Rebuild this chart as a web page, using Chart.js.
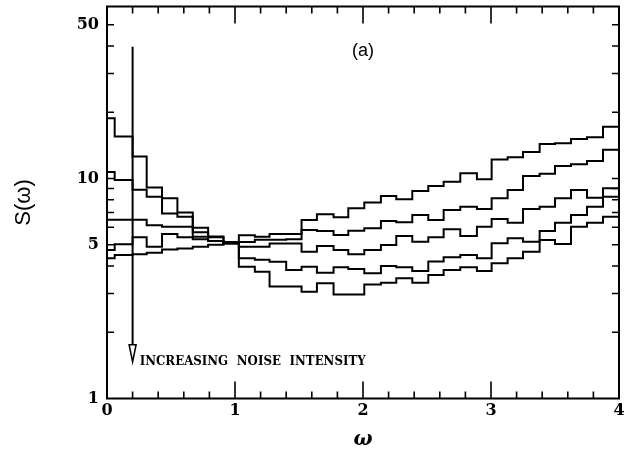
<!DOCTYPE html>
<html><head><meta charset="utf-8">
<script src="https://cdn.jsdelivr.net/npm/chart.js@4"></script>
<style>html,body{margin:0;padding:0;background:#fff;}</style>
</head><body>
<canvas id="c" width="629" height="458"></canvas>
<script>
// bin edges along omega (34 edges -> 33 bins)
const binEdges = [0, 0.06, 0.20, 0.31, 0.43, 0.55, 0.67, 0.79, 0.91, 1.03, 1.155, 1.27, 1.40, 1.52, 1.64, 1.77, 1.885, 2.01, 2.14, 2.26, 2.385, 2.51, 2.63, 2.76, 2.89, 3.005, 3.13, 3.25, 3.38, 3.50, 3.625, 3.75, 3.875, 4.0];
// spectra S(omega), one value per bin
const spectrum1 = [4.34, 4.49, 4.53, 4.6, 4.75, 4.8, 4.9, 5.0, 5.1, 5.52, 5.44, 5.6, 5.6, 6.48, 6.87, 6.66, 7.32, 7.77, 8.33, 8.05, 8.77, 9.25, 9.67, 10.56, 9.92, 12.2, 12.5, 13.2, 14.35, 14.45, 15.1, 15.4, 17.2];
const spectrum2 = [4.73, 5.03, 5.4, 4.9, 5.6, 5.4, 5.3, 5.2, 5.1, 5.15, 5.27, 5.27, 5.3, 5.83, 5.77, 5.54, 5.79, 5.94, 6.41, 6.32, 6.82, 6.48, 7.19, 7.44, 7.26, 8.13, 8.87, 10.27, 10.5, 11.4, 11.6, 12.0, 13.5];
const spectrum3 = [6.5, 6.5, 6.5, 6.13, 6.04, 6.04, 5.7, 5.4, 5.1, 4.9, 4.89, 5.07, 5.07, 4.64, 4.93, 4.73, 4.52, 4.73, 4.99, 5.48, 5.16, 5.4, 5.88, 5.48, 6.04, 6.54, 6.3, 7.26, 7.44, 8.13, 8.87, 8.17, 8.27];
const spectrum4 = [10.7, 9.85, 8.9, 8.27, 6.93, 6.7, 5.44, 5.2, 5.05, 4.34, 4.27, 4.18, 3.84, 3.97, 3.73, 3.95, 3.88, 3.71, 4.0, 3.95, 3.8, 4.19, 4.38, 4.49, 4.34, 5.08, 5.35, 5.16, 5.77, 6.3, 6.82, 7.44, 9.03];
const spectrum5 = [18.8, 15.5, 12.6, 9.1, 8.13, 7.0, 5.97, 5.45, 5.15, 3.97, 3.77, 3.23, 3.23, 3.06, 3.34, 2.97, 2.97, 3.3, 3.36, 3.52, 3.36, 3.64, 3.84, 3.95, 3.8, 4.12, 4.34, 4.65, 5.25, 5.04, 6.04, 6.3, 6.7];

const xTickLabels = [0, 1, 2, 3, 4];
const xMinorTicks = [0.2, 0.4, 0.6, 0.8, 1.2, 1.4, 1.6, 1.8, 2.2, 2.4, 2.6, 2.8, 3.2, 3.4, 3.6, 3.8];
const yTickLabels = [1, 5, 10, 50];
const yMinorTicks = [2, 3, 4, 6, 7, 8, 9, 20, 30, 40];

const panelLabel = { text: '(a)', x: 2.0, y: 38 };
const arrowNote = { text: 'INCREASING NOISE INTENSITY', x: 0.2, yFrom: 39.7, yTo: 1.47, textX: 0.255 };

function stepPoints(vals) {
  const pts = vals.map((v, i) => ({ x: binEdges[i], y: v }));
  pts.push({ x: binEdges[binEdges.length - 1], y: vals[vals.length - 1] });
  return pts;
}
const allSpectra = [spectrum1, spectrum2, spectrum3, spectrum4, spectrum5];

const frame = {
  id: 'frame',
  afterDatasetsDraw(chart) {
    const { ctx, chartArea: a, scales: { x, y } } = chart;
    ctx.save();
    ctx.strokeStyle = '#000';
    ctx.lineWidth = 2;
    ctx.strokeRect(a.left, a.top, a.right - a.left, a.bottom - a.top);
    ctx.lineWidth = 1.6;
    ctx.beginPath();
    const xt = (v, len) => { const p = x.getPixelForValue(v); ctx.moveTo(p, a.bottom); ctx.lineTo(p, a.bottom - len); ctx.moveTo(p, a.top); ctx.lineTo(p, a.top + len); };
    xMinorTicks.forEach(v => xt(v, 7));
    xTickLabels.slice(1, -1).forEach(v => xt(v, 17));
    const yt = (v) => { const p = y.getPixelForValue(v); ctx.moveTo(a.left, p); ctx.lineTo(a.left + 7, p); ctx.moveTo(a.right, p); ctx.lineTo(a.right - 7, p); };
    yMinorTicks.forEach(yt);
    yTickLabels.slice(1).forEach(yt);
    ctx.stroke();

    // arrow
    const ax = x.getPixelForValue(arrowNote.x);
    const ay0 = y.getPixelForValue(arrowNote.yFrom);
    const ay1 = y.getPixelForValue(arrowNote.yTo);
    ctx.lineWidth = 2;
    ctx.beginPath();
    ctx.moveTo(ax, ay0); ctx.lineTo(ax, ay1 - 17);
    ctx.stroke();
    ctx.lineWidth = 1.5;
    ctx.beginPath();
    ctx.moveTo(ax - 3.5, ay1 - 17); ctx.lineTo(ax + 3.5, ay1 - 17); ctx.lineTo(ax, ay1); ctx.closePath();
    ctx.fillStyle = '#fff'; ctx.fill(); ctx.stroke();

    ctx.fillStyle = '#000';
    ctx.textBaseline = 'middle';
    ctx.textAlign = 'left';
    ctx.font = 'bold 13px "DejaVu Serif"';
    try { ctx.wordSpacing = '5px'; } catch (e) {}
    ctx.fillText(arrowNote.text, x.getPixelForValue(arrowNote.textX), ay1, 226);
    try { ctx.wordSpacing = '0px'; } catch (e) {}

    ctx.textAlign = 'center';
    ctx.font = '18px "Liberation Sans"';
    ctx.fillText(panelLabel.text, x.getPixelForValue(panelLabel.x), y.getPixelForValue(panelLabel.y));
    ctx.restore();
  }
};

const tickFont = { family: 'DejaVu Serif', weight: 'bold', size: 16 };

new Chart(document.getElementById('c'), {
  type: 'line',
  data: {
    datasets: allSpectra.map(s => ({
      data: stepPoints(s),
      stepped: true,
      borderColor: '#000',
      borderWidth: 2,
      pointRadius: 0,
      fill: false
    }))
  },
  options: {
    responsive: false,
    animation: false,
    devicePixelRatio: 1,
    layout: { padding: { top: 6.5, right: 10, left: 0, bottom: 0 } },
    plugins: { legend: { display: false }, tooltip: { enabled: false } },
    scales: {
      x: {
        type: 'linear', min: 0, max: 4, position: 'bottom',
        grid: { display: false, drawTicks: false }, border: { display: false },
        ticks: { padding: 3, color: '#000', font: tickFont, maxRotation: 0, autoSkip: false, callback: v => String(v) },
        afterBuildTicks: s => { s.ticks = xTickLabels.map(v => ({ value: v })); },
        title: { display: true, text: 'ω', color: '#000', font: { family: 'DejaVu Serif', style: 'italic', weight: 'bold', size: 20 }, padding: { top: 0, bottom: 6 } },
        afterFit: s => { s.height = 59.5; s.paddingLeft = 0; s.paddingRight = 0; }
      },
      y: {
        type: 'logarithmic', min: 1, max: 60.5, position: 'left',
        grid: { display: false, drawTicks: false }, border: { display: false },
        ticks: { padding: 8, color: '#000', font: tickFont, autoSkip: false, callback: v => String(v) },
        afterBuildTicks: s => { s.ticks = yTickLabels.map(v => ({ value: v })); },
        title: { display: true, text: 'S(ω)', color: '#000', font: { family: 'Liberation Sans', size: 22 }, padding: { top: 11, bottom: 0 } },
        afterFit: s => { s.width = 107; s.paddingTop = 0; s.paddingBottom = 0; }
      }
    }
  },
  plugins: [frame]
});
</script>
</body></html>
